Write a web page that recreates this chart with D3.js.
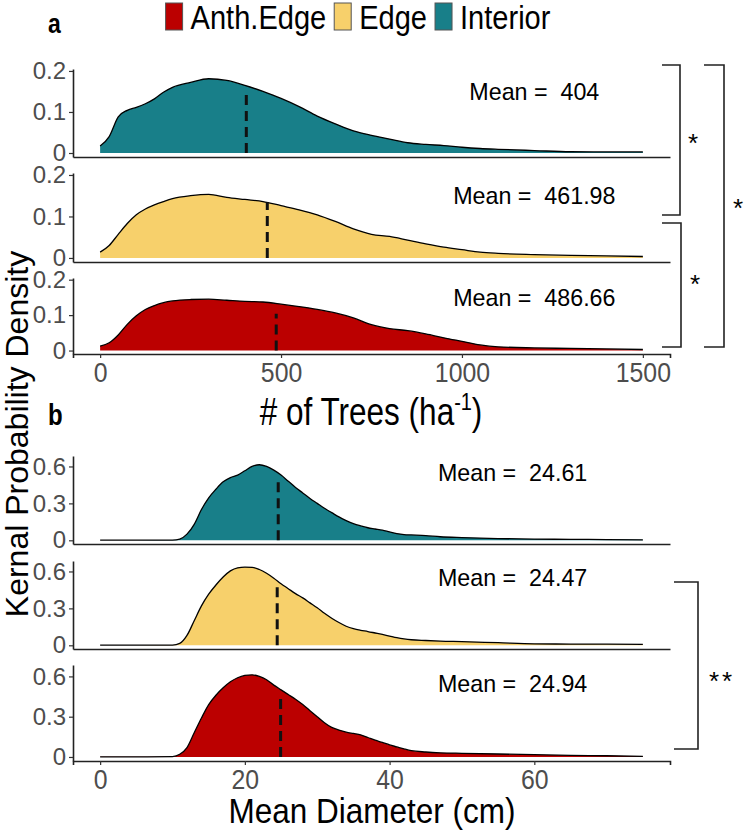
<!DOCTYPE html>
<html><head><meta charset="utf-8">
<script src="https://cdn.jsdelivr.net/npm/d3@7"></script>
<style>
body{margin:0;background:#fff}
svg{display:block}
text{font-family:"Liberation Sans",Arial,Helvetica,sans-serif}
</style>
</head><body>
<svg id="c" width="745" height="830"></svg>
<script>
// ---------------- DATA ----------------
const categories = ["Anth.Edge", "Edge", "Interior"];

// panel a: number of trees per ha
const treesX = [0,25,50,75,100,125,150,175,200,250,300,350,400,450,500,550,600,650,700,750,800,850,900,950,1000,1050,1100,1200,1300,1400,1500];
const treesInterior = [0.017,0.040,0.088,0.104,0.111,0.120,0.132,0.148,0.160,0.172,0.181,0.177,0.165,0.150,0.133,0.113,0.090,0.071,0.054,0.043,0.034,0.025,0.021,0.018,0.014,0.011,0.009,0.006,0.003,0.0025,0.0025];
const treesEdge     = [0.014,0.030,0.057,0.083,0.104,0.118,0.128,0.136,0.143,0.150,0.153,0.146,0.141,0.136,0.126,0.116,0.104,0.088,0.070,0.057,0.052,0.043,0.034,0.026,0.020,0.014,0.011,0.008,0.006,0.005,0.0035];
const treesAnth     = [0.0125,0.022,0.044,0.074,0.098,0.116,0.127,0.135,0.140,0.144,0.145,0.142,0.139,0.137,0.131,0.124,0.116,0.106,0.092,0.073,0.062,0.056,0.047,0.036,0.026,0.016,0.0105,0.0075,0.006,0.0045,0.003];
const treesMeans = [486.66, 461.98, 404];          // Anth.Edge, Edge, Interior
const treesMeanLineTop = [0.104, 0.134, 0.146];
const treesTicksX = [0, 500, 1000, 1500];
const treesTicksY = [0, 0.1, 0.2];
const treesLabelPos = [1200, 0.15];

// panel b: mean diameter (cm)
const diamX = [0,5,10,11,12,13,14,15,16,17,18,19,20,21,22,23,24,25,26,27,28,29,30,31,32,33,34,35,36,37,38,39,40,41,42,43,45,47,50,55,60,65,70,75];
const diamInterior = [0.001,0.001,0.002,0.010,0.050,0.130,0.250,0.345,0.415,0.475,0.510,0.530,0.565,0.600,0.614,0.600,0.570,0.530,0.480,0.430,0.385,0.340,0.300,0.260,0.225,0.190,0.160,0.135,0.117,0.102,0.092,0.082,0.068,0.055,0.047,0.044,0.038,0.029,0.022,0.014,0.010,0.008,0.006,0.004];
const diamEdge     = [0.001,0.001,0.002,0.015,0.080,0.200,0.320,0.415,0.490,0.555,0.605,0.630,0.636,0.634,0.616,0.585,0.545,0.500,0.460,0.420,0.385,0.345,0.305,0.260,0.220,0.185,0.155,0.135,0.122,0.112,0.100,0.088,0.075,0.062,0.052,0.045,0.039,0.034,0.030,0.021,0.012,0.010,0.009,0.008];
const diamAnth     = [0.001,0.001,0.003,0.020,0.070,0.180,0.290,0.390,0.460,0.515,0.560,0.590,0.607,0.612,0.600,0.575,0.535,0.500,0.465,0.430,0.390,0.345,0.300,0.255,0.220,0.200,0.185,0.175,0.165,0.145,0.125,0.108,0.090,0.075,0.060,0.047,0.037,0.031,0.027,0.022,0.017,0.012,0.009,0.005];
const diamMeans = [24.94, 24.47, 24.61];
const diamMeanLineTop = [0.45, 0.48, 0.49];
const diamTicksX = [0, 20, 40, 60];
const diamTicksY = [0, 0.3, 0.6];
const diamLabelPos = [57, 0.55];

const treesSig = [["Interior","Edge","*"],["Edge","Anth.Edge","*"],["Interior","Anth.Edge","*"]];
const diamSig = [["Edge","Anth.Edge","**"]];

// ---------------- STYLE / LAYOUT ----------------
const colors = {"Anth.Edge":"#bb0000","Edge":"#f7d06b","Interior":"#187f89"};
const svg = d3.select("#c");
const L = 73, R = 670;
const panelsA = [{cat:"Interior",top:69,bottom:157},{cat:"Edge",top:173,bottom:262},{cat:"Anth.Edge",top:278,bottom:354}];
const panelsB = [{cat:"Interior",top:456,bottom:544},{cat:"Edge",top:561,bottom:649},{cat:"Anth.Edge",top:665,bottom:761}];
const xa = d3.scaleLinear().domain([-75,1575]).range([L,R]);
const xb = d3.scaleLinear().domain([-3.75,78.75]).range([L,R]);
const yDomA = [-0.00975, 0.20475];
const yDomB = [-0.03, 0.685];

const seriesA = {"Interior":treesInterior,"Edge":treesEdge,"Anth.Edge":treesAnth};
const seriesB = {"Interior":diamInterior,"Edge":diamEdge,"Anth.Edge":diamAnth};

function sText(g, x, y, str, fs, sx, opts={}) {
  const t = g.append("text")
    .attr("transform", `translate(${x},${y}) scale(${sx},1)`)
    .attr("font-size", fs)
    .attr("text-anchor", opts.anchor || "start")
    .attr("fill", opts.fill || "#000")
    .text(str);
  if (opts.bold) t.attr("font-weight","bold");
  return t;
}

function drawPanel(p, xs, xArr, yArr, yDom, yTicks, mean, meanTop, labelPos, isBottom, xTicks, fmtMean) {
  const ys = d3.scaleLinear().domain(yDom).range([p.bottom, p.top]);
  const g = svg.append("g");
  const pts = xArr.map((x,i)=>[x, yArr[i]]);
  const area = d3.area().x(d=>xs(d[0])).y0(ys(0)).y1(d=>ys(d[1])).curve(d3.curveMonotoneX);
  const line = d3.line().x(d=>xs(d[0])).y(d=>ys(d[1])).curve(d3.curveMonotoneX);
  g.append("path").attr("d", area(pts)).attr("fill", colors[p.cat]);
  g.append("path").attr("d", line(pts)).attr("fill","none").attr("stroke","#000").attr("stroke-width",1.3);
  g.append("line").attr("x1",xs(mean)).attr("x2",xs(mean)).attr("y1",ys(0)).attr("y2",ys(meanTop))
    .attr("stroke","#111").attr("stroke-width",3).attr("stroke-dasharray","10,6");
  sText(g, xs(labelPos[0]), ys(labelPos[1]) + 8.5, "Mean =\u00a0\u00a0" + fmtMean, 24, 0.97, {anchor:"middle"});

  // y axis
  const ya = g.append("g").attr("transform",`translate(${L},0)`)
    .call(d3.axisLeft(ys).tickValues(yTicks).tickSize(4).tickSizeOuter(0).tickPadding(3).tickFormat(d=>String(d)));
  ya.select(".domain").attr("stroke","#222").attr("stroke-width",1.6);
  ya.selectAll(".tick line").attr("stroke","#333").attr("stroke-width",1.2);
  ya.selectAll(".tick text").attr("font-size",24).attr("fill","#4d4d4d").attr("font-family",null);

  // x axis
  const xaxis = d3.axisBottom(xs).tickSizeOuter(0);
  if (isBottom) xaxis.tickValues(xTicks).tickSize(4).tickPadding(5).tickFormat(d=>String(d));
  else xaxis.tickValues([]).tickSize(0);
  const xg = g.append("g").attr("transform",`translate(0,${p.bottom})`).call(xaxis);
  xg.select(".domain").attr("stroke","#222").attr("stroke-width",1.6);
  xg.selectAll(".tick line").attr("stroke","#333").attr("stroke-width",1.2);
  xg.selectAll(".tick text").attr("font-size",27).attr("fill","#4d4d4d").attr("font-family",null)
    .attr("transform","scale(0.92,1)");
  return ys;
}

const idx = c => categories.indexOf(c);
panelsA.forEach((p,k)=>{
  const i = idx(p.cat);
  drawPanel(p, xa, treesX, seriesA[p.cat], yDomA, treesTicksY, treesMeans[i], treesMeanLineTop[i], treesLabelPos,
    k===2, treesTicksX, String(treesMeans[i]));
});
panelsB.forEach((p,k)=>{
  const i = idx(p.cat);
  drawPanel(p, xb, diamX, seriesB[p.cat], yDomB, diamTicksY, diamMeans[i], diamMeanLineTop[i], diamLabelPos,
    k===2, diamTicksX, String(diamMeans[i]));
});

// ---------------- significance brackets ----------------
const bracketsA = [{x1:662,x2:680,y1:65,y2:215,tx:693,ty:137},{x1:662,x2:681,y1:223,y2:347,tx:695,ty:278},{x1:704,x2:724,y1:65,y2:347,tx:738,ty:202}];
const bracketsB = [{x1:674,x2:698,y1:582,y2:749,tx:722,ty:675}];
function drawBrackets(list, sig) {
  list.forEach((b,i)=>{
    svg.append("path").attr("d",`M${b.x1},${b.y1}H${b.x2}V${b.y2}H${b.x1}`)
      .attr("fill","none").attr("stroke","#222").attr("stroke-width",1.6);
    const fs = 26;
    svg.append("text").attr("x",b.tx).attr("y",b.ty + 0.573*fs).attr("font-size",fs)
      .attr("text-anchor","middle").attr("letter-spacing", sig[i][2].length>1 ? 3 : 0).text(sig[i][2]);
  });
}
drawBrackets(bracketsA, treesSig);
drawBrackets(bracketsB, diamSig);

// ---------------- legend ----------------
const lg = svg.append("g");
let items = [];
categories.forEach((c,i)=>{
  const it = lg.append("g");
  it.append("rect").attr("x",0).attr("y",3).attr("width",17).attr("height",27)
    .attr("fill",colors[c]).attr("stroke","#555").attr("stroke-width",1);
  const sx = 0.88;
  const t = sText(it, 25, 29, c, 33, sx);
  const w = 25 + t.node().getComputedTextLength()*sx;
  items.push({it, w});
});
const gap = 8;
const total = d3.sum(items, d=>d.w) + gap*(items.length-1);
let x0 = 358 - total/2;
items.forEach(d=>{ d.it.attr("transform",`translate(${x0},0)`); x0 += d.w + gap; });

// ---------------- labels & titles ----------------
sText(svg, 48, 33, "a", 28, 0.82, {bold:true});
sText(svg, 48, 425, "b", 30, 0.8, {bold:true});

const tA = svg.append("text").attr("transform","translate(371,425) scale(0.83,1)")
  .attr("font-size",38).attr("text-anchor","middle");
tA.append("tspan").text("# of Trees (ha");
tA.append("tspan").attr("font-size",24).attr("dy",-15).text("-1");
tA.append("tspan").attr("dy",15).text(")");

sText(svg, 372, 823, "Mean Diameter (cm)", 35, 0.9, {anchor:"middle"});

svg.append("text").attr("transform","translate(28,434) rotate(-90)")
  .attr("font-size",32).attr("text-anchor","middle").text("Kernal Probability Density");
</script>
</body></html>
